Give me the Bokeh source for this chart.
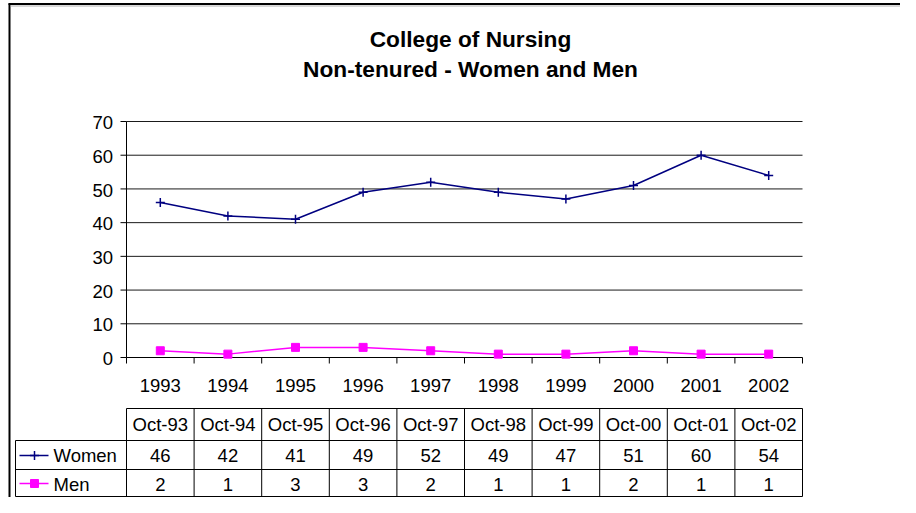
from bokeh.plotting import figure
from bokeh.models import Range1d
from bokeh.core.properties import value
from bokeh.embed import file_html
from bokeh.resources import INLINE

# ---------------- data ----------------
title_lines = ["College of Nursing", "Non-tenured - Women and Men"]
years = ["1993", "1994", "1995", "1996", "1997", "1998", "1999", "2000", "2001", "2002"]
table_headers = ["Oct-93", "Oct-94", "Oct-95", "Oct-96", "Oct-97",
                 "Oct-98", "Oct-99", "Oct-00", "Oct-01", "Oct-02"]
women = [46, 42, 41, 49, 52, 49, 47, 51, 60, 54]
men = [2, 1, 3, 3, 2, 1, 1, 2, 1, 1]
series_names = ["Women", "Men"]
y_ticks = [0, 10, 20, 30, 40, 50, 60, 70]

# ---------------- layout (picture pixels) ----------------
FIG_X0, FIG_Y0 = 0, 0
W, H = 900, 497
PLOT_L, PLOT_R, PLOT_T, PLOT_B = 126, 802, 121, 357
n = len(years)
cat_px = (PLOT_R - PLOT_L) / n
unit_px = (PLOT_B - PLOT_T) / max(y_ticks)


def X(px):
    return (px - PLOT_L) / cat_px - 0.5


def Y(py):
    return (PLOT_B - py) / unit_px


FONT = value("Liberation Sans")
FS = "18.5px"
WOMEN_C = "#000080"
MEN_C = "#FF00FF"

p = figure(width=W, height=H,
           x_range=Range1d(X(FIG_X0), X(FIG_X0 + W)),
           y_range=Range1d(Y(FIG_Y0 + H), Y(FIG_Y0)),
           output_backend="svg", toolbar_location=None,
           x_axis_location=None, y_axis_location=None,
           min_border=0)
p.min_border_left = p.min_border_right = p.min_border_top = p.min_border_bottom = 0
p.grid.visible = False
p.outline_line_color = None
p.background_fill_color = "white"
p.border_fill_color = "white"

x_left = -0.5
x_right = n - 0.5
cats = list(range(n))
bounds = [i - 0.5 for i in range(n + 1)]

# outer chart border (left + top)
p.segment(x0=[X(9)], y0=[Y(3)], x1=[X(9)], y1=[Y(FIG_Y0 + H)], line_color="black", line_width=2)
p.segment(x0=[X(8)], y0=[Y(3.5)], x1=[X(FIG_X0 + W)], y1=[Y(3.5)], line_color="black", line_width=2)
p.segment(x0=[X(10)], y0=[Y(5.5)], x1=[X(FIG_X0 + W)], y1=[Y(5.5)], line_color="#b0b0b0", line_width=1)

# gridlines
gt = [t for t in y_ticks if t > 0]
p.segment(x0=[x_left] * len(gt), y0=gt, x1=[x_right] * len(gt), y1=gt, line_color="#1a1a1a", line_width=1)

# y axis
p.segment(x0=[x_left], y0=[0], x1=[x_left], y1=[max(y_ticks)], line_color="black", line_width=1)
p.segment(x0=[X(120)] * len(y_ticks), y0=y_ticks, x1=[x_left] * len(y_ticks), y1=y_ticks,
          line_color="black", line_width=1)
p.text(x=[X(112.5)] * len(y_ticks), y=[t - 1.2 / unit_px for t in y_ticks], text=[str(t) for t in y_ticks],
       text_align="right", text_baseline="alphabetic", text_font=FONT, text_font_size=FS,
       text_color="black")

# x axis
p.segment(x0=[x_left], y0=[0], x1=[x_right], y1=[0], line_color="black", line_width=1)
p.segment(x0=bounds, y0=[0] * len(bounds), x1=bounds, y1=[Y(363)] * len(bounds),
          line_color="black", line_width=1)
p.text(x=cats, y=[Y(384.5)] * n, text=years, text_align="center", text_baseline="alphabetic",
       text_font=FONT, text_font_size=FS, text_color="black")

# series
p.line(x=cats, y=women, line_color=WOMEN_C, line_width=1.5)
p.scatter(x=cats, y=women, marker="cross", size=9, line_color=WOMEN_C, line_width=1.5)
p.line(x=cats, y=men, line_color=MEN_C, line_width=1.5)
p.scatter(x=cats, y=men, marker="square", size=8, fill_color=MEN_C, line_color=MEN_C)

# title
p.text(x=[X(470)], y=[Y(38.5)], text=[title_lines[0]], text_align="center", text_baseline="alphabetic",
       text_font=FONT, text_font_size="22.7px", text_font_style="bold", text_color="black")
p.text(x=[X(470)], y=[Y(68.5)], text=[title_lines[1]], text_align="center", text_baseline="alphabetic",
       text_font=FONT, text_font_size="22.7px", text_font_style="bold", text_color="black")

# data table
T_TOP, T_R1, T_R2, T_BOT = 408, 440, 469, 496
T_LEFT = 15
hl_y = [Y(T_TOP), Y(T_R1), Y(T_R2), Y(T_BOT)]
hl_x0 = [x_left, X(T_LEFT), X(T_LEFT), X(T_LEFT)]
p.segment(x0=hl_x0, y0=hl_y, x1=[x_right] * 4, y1=hl_y, line_color="black", line_width=1)
p.segment(x0=bounds, y0=[Y(T_TOP)] * len(bounds), x1=bounds, y1=[Y(T_BOT)] * len(bounds),
          line_color="black", line_width=1)
p.segment(x0=[X(T_LEFT)], y0=[Y(T_R1)], x1=[X(T_LEFT)], y1=[Y(T_BOT)], line_color="black", line_width=1)

p.text(x=cats, y=[Y(423.5)] * n, text=table_headers, text_align="center", text_baseline="alphabetic",
       text_font=FONT, text_font_size=FS, text_color="black")
p.text(x=cats, y=[Y(455)] * n, text=[str(v) for v in women], text_align="center",
       text_baseline="alphabetic", text_font=FONT, text_font_size=FS, text_color="black")
p.text(x=cats, y=[Y(483.5)] * n, text=[str(v) for v in men], text_align="center",
       text_baseline="alphabetic", text_font=FONT, text_font_size=FS, text_color="black")

# legend keys inside the table
p.segment(x0=[X(19)], y0=[Y(455)], x1=[X(48)], y1=[Y(455)], line_color=WOMEN_C, line_width=1.5)
p.scatter(x=[X(34)], y=[Y(455)], marker="cross", size=9, line_color=WOMEN_C, line_width=1.5)
p.segment(x0=[X(19)], y0=[Y(483)], x1=[X(48)], y1=[Y(483)], line_color=MEN_C, line_width=1.5)
p.scatter(x=[X(34)], y=[Y(483)], marker="square", size=8, fill_color=MEN_C, line_color=MEN_C)
p.text(x=[X(53)] * 2, y=[Y(455), Y(483.5)], text=series_names, text_align="left",
       text_baseline="alphabetic", text_font=FONT, text_font_size=FS, text_color="black")

open("out.html", "w").write(file_html(p, INLINE))
